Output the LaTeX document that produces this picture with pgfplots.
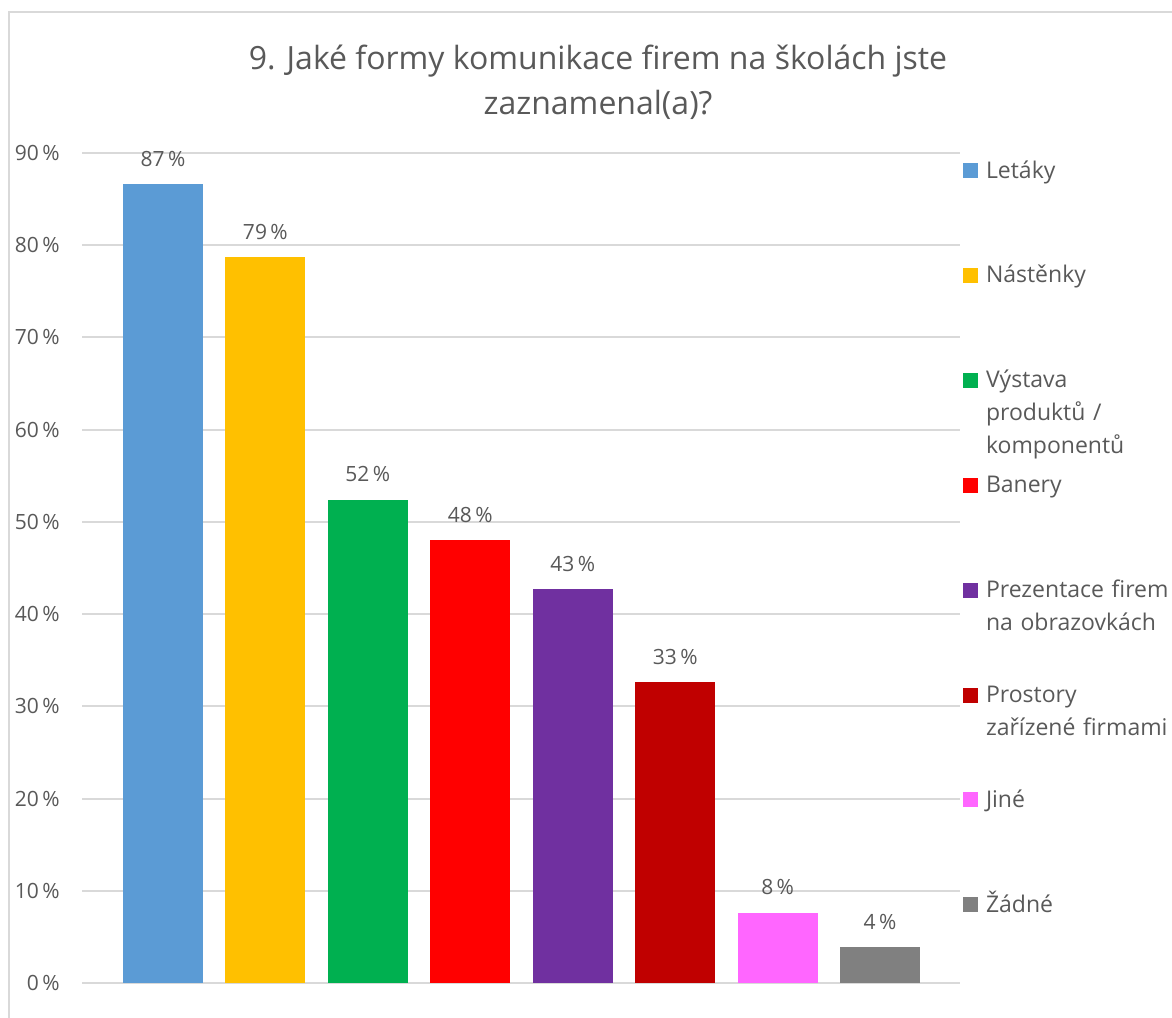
\documentclass[border=0pt]{standalone}
\usepackage{pgfplots}
\pgfplotsset{compat=1.18}
\usepackage{fontspec}
\setmainfont{Open Sans}
\definecolor{txt}{HTML}{595959}
\definecolor{gridgray}{HTML}{D9D9D9}
\definecolor{cBlue}{HTML}{5B9BD5}
\definecolor{cYellow}{HTML}{FFC000}
\definecolor{cGreen}{HTML}{00B050}
\definecolor{cRed}{HTML}{FF0000}
\definecolor{cPurple}{HTML}{7030A0}
\definecolor{cDarkRed}{HTML}{C00000}
\definecolor{cPink}{HTML}{FF66FF}
\definecolor{cGray}{HTML}{808080}
\pgfplotsset{
  mybar/.style={fill=#1, draw=none, bar shift=0pt,
    legend image code/.code={\fill[#1,draw=none] (0pt,0pt) rectangle (7.5pt,7.5pt);}}
}
\begin{document}
\begin{tikzpicture}
\useasboundingbox (-41pt,-17pt) rectangle (545pt,491.5pt);
\draw[gridgray, line width=1pt] (-36.5pt,-40pt) -- (-36.5pt,485.5pt) -- (580pt,485.5pt);
\node[font=\fontsize{16}{22.5}\selectfont, text=txt, anchor=base] at (258pt,456.5pt) {9. Jaké formy komunikace firem na školách jste};
\node[font=\fontsize{16}{22.5}\selectfont, text=txt, anchor=base] at (258pt,434pt) {zaznamenal(a)?};
\begin{axis}[
  at={(0pt,0pt)}, anchor=south west,
  width=439pt, height=415pt, scale only axis,
  xmin=-0.79, xmax=7.78, ymin=0, ymax=90,
  ybar, bar width=40pt, bar shift=0pt,
  axis line style={draw=none},
  xtick=\empty, ytick={0,10,...,90},
  major tick length=0pt,
  ymajorgrids, grid style={gridgray, line width=1pt},
  /pgf/number format/assume math mode=true,
  yticklabel={\pgfmathprintnumber{\tick}\,\%},
  yticklabel style={font=\fontsize{10.5}{12}\selectfont, text=txt, inner sep=0pt, xshift=-11pt},
  nodes near coords={\pgfmathprintnumber[fixed,precision=0]{\pgfplotspointmeta}\,\%},
  nodes near coords style={font=\fontsize{10.5}{12}\selectfont, text=txt, inner sep=0pt, anchor=base, yshift=9pt},
  legend style={at={(1,0)}, anchor=north west, xshift=1.5pt, yshift=414.5pt,
    draw=none, fill=none, inner sep=0pt, outer sep=0pt, row sep=0pt, column sep=4pt,
    font=\fontsize{11.5}{16.5}\selectfont, text=txt,
    cells={anchor=base west},
    nodes={inner sep=0pt, text width=100pt, text height=12pt, text depth=40.45pt, align=left}},
]
\addplot[mybar=cBlue] coordinates {(0,86.6)};
\addlegendentry{Letáky}
\addplot[mybar=cYellow] coordinates {(1,78.7)};
\addlegendentry{Nástěnky}
\addplot[mybar=cGreen] coordinates {(2,52.4)};
\addlegendentry{Výstava\\produktů /\\komponentů}
\addplot[mybar=cRed] coordinates {(3,48.0)};
\addlegendentry{Banery}
\addplot[mybar=cPurple] coordinates {(4,42.7)};
\addlegendentry{Prezentace firem\\na obrazovkách}
\addplot[mybar=cDarkRed] coordinates {(5,32.6)};
\addlegendentry{Prostory\\zařízené firmami}
\addplot[mybar=cPink] coordinates {(6,7.6)};
\addlegendentry{Jiné}
\addplot[mybar=cGray] coordinates {(7,3.9)};
\addlegendentry{Žádné}
\end{axis}
\end{tikzpicture}
\end{document}
